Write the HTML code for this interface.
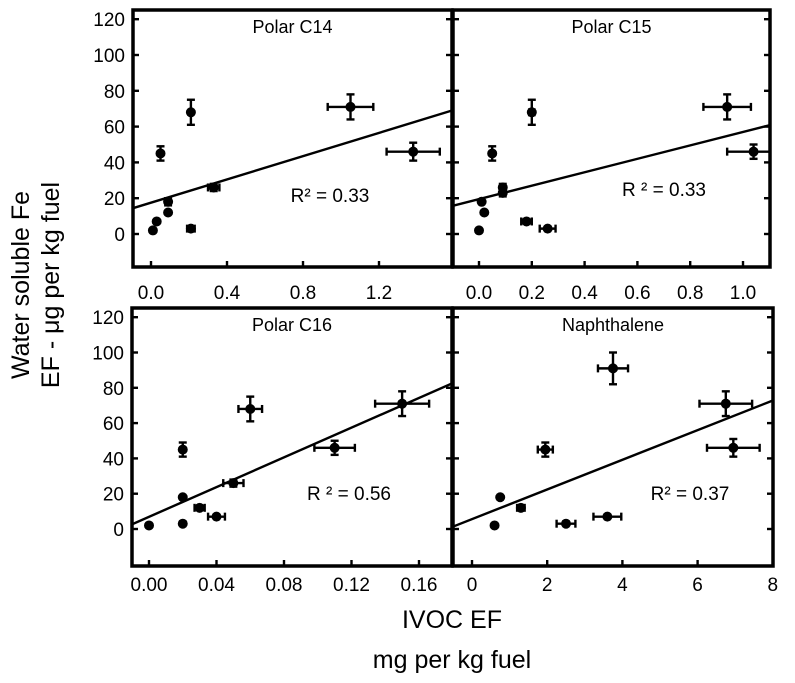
<!DOCTYPE html>
<html><head><meta charset="utf-8"><style>
html,body{margin:0;padding:0;background:#fff;}
svg{display:block;font-family:"Liberation Sans",Arial,sans-serif;}
</style></head><body>
<svg id="chart" width="795" height="683" viewBox="0 0 795 683" xmlns="http://www.w3.org/2000/svg">
<text transform="translate(29,285) rotate(-90)" text-anchor="middle" font-size="25">Water soluble Fe</text>
<text transform="translate(59,285) rotate(-90)" text-anchor="middle" font-size="25">EF - μg per kg fuel</text>
<text x="452" y="628" text-anchor="middle" font-size="25">IVOC EF</text>
<text x="452" y="668" text-anchor="middle" font-size="25">mg per kg fuel</text>
</svg>
<script>
// Panel C14
const c14X=[0.01,0.03,0.09,0.09,0.05,0.21,0.21,0.33,1.05,1.38];
const c14Y=[2,7,12,18,45,68,3,26,71,46];
const c14XErr=[0,0,0,0,0,0.01,0.02,0.03,0.12,0.14];
const c14YErr=[0,0,0,2,4,7,0,2,7,5];
const c14Fit=[17.5,32.5];
// Panel C15
const c15X=[0,0.02,0.01,0.05,0.09,0.09,0.2,0.18,0.26,0.94,1.04];
const c15Y=[2,12,18,45,26,23,68,7,3,71,46];
const c15XErr=[0,0,0,0,0,0,0.01,0.02,0.03,0.09,0.1];
const c15YErr=[0,0,0,4,2,2,7,0,0,7,4];
const c15Fit=[19.5,37.5];
// Panel C16
const c16X=[0,0.02,0.02,0.02,0.03,0.04,0.05,0.06,0.11,0.15];
const c16Y=[2,18,3,45,12,7,26,68,46,71];
const c16XErr=[0,0,0,0,0.003,0.005,0.006,0.007,0.012,0.016];
const c16YErr=[0,0,0,4,0,0,2,7,4,7];
const c16Fit=[6.9,421];
// Panel Naphthalene
const napX=[0.6,0.75,1.3,1.95,2.5,3.6,3.75,6.75,6.95];
const napY=[2,18,12,45,3,7,91,71,46];
const napXErr=[0,0,0.1,0.2,0.25,0.37,0.4,0.7,0.7];
const napYErr=[0,0,0,4,0,0,9,7,5];
const napFit=[5.6,8.4];
const yTicks=[0,20,40,60,80,100,120];
const c14Ticks=["0.0","0.4","0.8","1.2"], c14TickV=[0,0.4,0.8,1.2];
const c15Ticks=["0.0","0.2","0.4","0.6","0.8","1.0"], c15TickV=[0,0.2,0.4,0.6,0.8,1.0];
const c16Ticks=["0.00","0.04","0.08","0.12","0.16"], c16TickV=[0,0.04,0.08,0.12,0.16];
const napTicks=["0","2","4","6","8"], napTickV=[0,2,4,6,8];

const NS="http://www.w3.org/2000/svg";
const svg=document.getElementById('chart');
function mk(tag,attrs,parent){const e=document.createElementNS(NS,tag);for(const k in attrs)e.setAttribute(k,attrs[k]);(parent||svg).appendChild(e);return e;}
const defs=mk('defs',{});

const panels=[
 {name:'polar-c14',title:'Polar C14',L:133,R:452,T:10,B:267,x0:151,xs:190,y0:234,ys:1.79,xmin:-0.095,xmax:1.58,X:c14X,Y:c14Y,XE:c14XErr,YE:c14YErr,fit:c14Fit,ticks:c14Ticks,tv:c14TickV,ylab:true,r2:'R² = 0.33',r2x:330,r2y:202,tx:292},
 {name:'polar-c15',title:'Polar C15',L:453,R:770,T:10,B:267,x0:479,xs:264,y0:234,ys:1.79,xmin:-0.098,xmax:1.10,X:c15X,Y:c15Y,XE:c15XErr,YE:c15YErr,fit:c15Fit,ticks:c15Ticks,tv:c15TickV,ylab:false,r2:'R ² = 0.33',r2x:664,r2y:196,tx:292},
 {name:'polar-c16',title:'Polar C16',L:132,R:452,T:308,B:566,x0:149,xs:1687.5,y0:529,ys:1.765,xmin:-0.01,xmax:0.18,X:c16X,Y:c16Y,XE:c16XErr,YE:c16YErr,fit:c16Fit,ticks:c16Ticks,tv:c16TickV,ylab:true,r2:'R ² = 0.56',r2x:349,r2y:500,tx:584},
 {name:'naphthalene',title:'Naphthalene',L:453,R:773,T:308,B:566,x0:472,xs:37.6,y0:529,ys:1.765,xmin:-0.5,xmax:8,X:napX,Y:napY,XE:napXErr,YE:napYErr,fit:napFit,ticks:napTicks,tv:napTickV,ylab:false,r2:'R² = 0.37',r2x:690,r2y:500,tx:584}
];
panels.forEach((p,pi)=>{
 const cp=mk('clipPath',{id:'clip'+pi},defs);
 mk('rect',{x:p.L,y:p.T,width:p.R-p.L,height:p.B-p.T},cp);
 const g=mk('g',{});
 
 
 const sx=v=>p.x0+v*p.xs, sy=v=>p.y0-v*p.ys;
 const inner=mk('g',{'clip-path':'url(#clip'+pi+')'},g);
 const ln=mk('line',{x1:sx(p.xmin),y1:sy(p.fit[0]+p.fit[1]*p.xmin),x2:sx(p.xmax),y2:sy(p.fit[0]+p.fit[1]*p.xmax),stroke:'#000','stroke-width':2.4},inner);
 
 
 p.X.forEach((xv,i)=>{
  const cx=sx(xv), cy=sy(p.Y[i]);
  const pg=mk('g',{},inner);
  
  
  const xe=p.XE[i]*p.xs, ye=p.YE[i]*p.ys;
  if(xe>2){mk('line',{x1:cx-xe,x2:cx+xe,y1:cy,y2:cy,stroke:'#000','stroke-width':2.4},pg);
   mk('line',{x1:cx-xe,x2:cx-xe,y1:cy-4,y2:cy+4,stroke:'#000','stroke-width':2.4},pg);
   mk('line',{x1:cx+xe,x2:cx+xe,y1:cy-4,y2:cy+4,stroke:'#000','stroke-width':2.4},pg);}
  if(ye>2){mk('line',{x1:cx,x2:cx,y1:cy-ye,y2:cy+ye,stroke:'#000','stroke-width':2.4},pg);
   mk('line',{x1:cx-4,x2:cx+4,y1:cy-ye,y2:cy-ye,stroke:'#000','stroke-width':2.4},pg);
   mk('line',{x1:cx-4,x2:cx+4,y1:cy+ye,y2:cy+ye,stroke:'#000','stroke-width':2.4},pg);}
  mk('circle',{cx:cx,cy:cy,r:5,fill:'#000'},pg);
 });
 const fr=mk('rect',{x:p.L,y:p.T,width:p.R-p.L,height:p.B-p.T,fill:'none',stroke:'#000','stroke-width':3.5},g);
 
 
 yTicks.forEach(t=>{
  const y=sy(t);
  mk('line',{x1:p.L,x2:p.L+6,y1:y,y2:y,stroke:'#000','stroke-width':2.4},g);
  mk('line',{x1:p.R-6,x2:p.R,y1:y,y2:y,stroke:'#000','stroke-width':2.4},g);
  if(p.ylab){const tl=mk('text',{x:p.L-8,y:y+7,'text-anchor':'end','font-size':19},g);tl.textContent=t;
   
   }
 });
 p.tv.forEach((v,i)=>{
  const x=sx(v);
  mk('line',{x1:x,x2:x,y1:p.B,y2:p.B-6,stroke:'#000','stroke-width':2.4},g);
  const tl=mk('text',{x:x,y:p.tx+7,'text-anchor':'middle','font-size':19},g);tl.textContent=p.ticks[i];
  
  
 });
 const tt=mk('text',{x:(p.L+p.R)/2,y:p.T+23,'text-anchor':'middle','font-size':18},g);tt.textContent=p.title;
 
 
 const r=mk('text',{x:p.r2x,y:p.r2y,'text-anchor':'middle','font-size':19},g);r.textContent=p.r2;
 
 
});
</script>
</body></html>
